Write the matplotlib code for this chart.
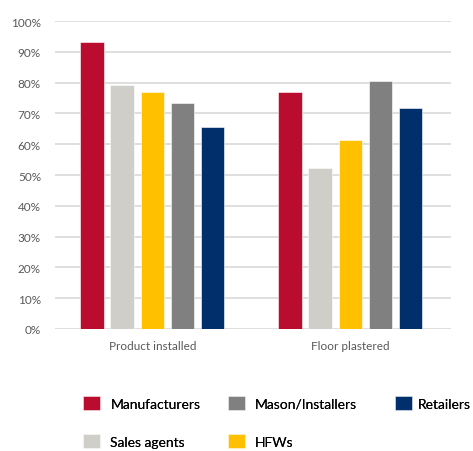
import numpy as np
import matplotlib
matplotlib.use('Agg')
import matplotlib.pyplot as plt

categories = ['Product installed', 'Floor plastered']
series = ['Manufacturers', 'Sales agents', 'HFWs', 'Mason/Installers', 'Retailers']
values = {
    'Manufacturers':    [0.932, 0.771],
    'Sales agents':     [0.792, 0.524],
    'HFWs':             [0.770, 0.613],
    'Mason/Installers': [0.734, 0.805],
    'Retailers':        [0.656, 0.717],
}
colors = {
    'Manufacturers':    '#BA0C2F',
    'Sales agents':     '#D0CEC9',
    'HFWs':             '#FFC000',
    'Mason/Installers': '#808080',
    'Retailers':        '#002F6C',
}
# legend columns as laid out in the reference
legend_cols = [['Manufacturers', 'Sales agents'],
               ['Mason/Installers', 'HFWs'],
               ['Retailers']]
legend_x = [0.176, 0.482, 0.836]
legend_pad = [0.75, 0.75, 0.4]
yticks = np.arange(0, 1.01, 0.1)

plt.rcParams['font.family'] = ['Lato', 'DejaVu Sans']

fig = plt.figure(figsize=(4.73, 4.52), dpi=100)
ax = fig.add_axes([0.116, 0.270, 0.837, 0.681])

x = np.arange(len(categories))
pitch, width = 0.152, 0.118
handles = {}
for i, s in enumerate(series):
    off = (i - 2) * pitch
    handles[s] = ax.bar(x + off, values[s], width, color=colors[s], zorder=3,
                        edgecolor='white', linewidth=0.4, label=s)

ax.set_xlim(-0.492, 1.508)
ax.set_ylim(0, 1.0)
ax.set_yticks(yticks)
ax.set_yticklabels(['{:.0f}%'.format(v * 100) for v in yticks])
ax.set_xticks(x)
ax.set_xticklabels(categories)
ax.tick_params(length=0, colors='#595959', labelsize=8.5)
ax.tick_params(axis='x', pad=8)
ax.tick_params(axis='y', pad=10)
ax.grid(axis='y', color='#D9D9D9', linewidth=1.2, zorder=0)
for sp in ax.spines.values():
    sp.set_visible(False)

for names, lx, pad in zip(legend_cols, legend_x, legend_pad):
    leg = fig.legend(handles=[handles[s] for s in names], labels=names,
                     ncol=1, frameon=False, loc='upper left',
                     bbox_to_anchor=(lx, 0.122), borderaxespad=0, borderpad=0,
                     fontsize=10, handlelength=1.2, handleheight=1.2,
                     handletextpad=pad, labelspacing=1.7)
    fig.add_artist(leg)

fig.savefig('out.png', dpi=100)
